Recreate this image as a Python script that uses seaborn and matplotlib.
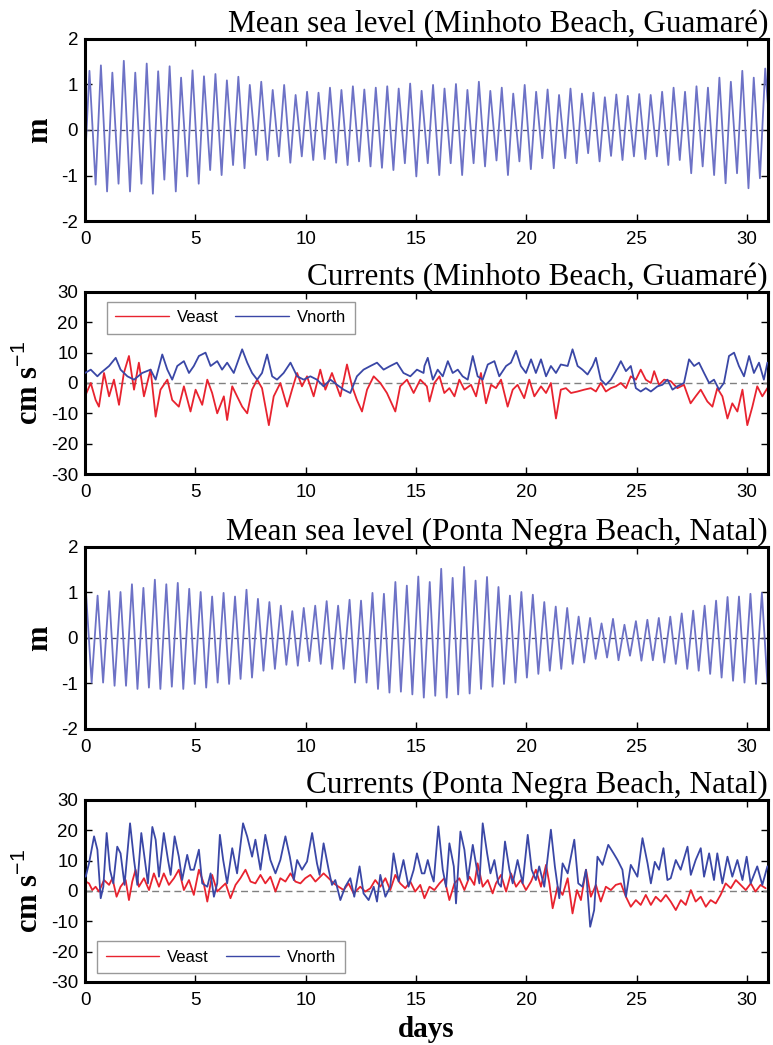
import numpy as np
import pandas as pd
import matplotlib
matplotlib.use("Agg")
import matplotlib.pyplot as plt
import seaborn as sns

# ---------------- data ----------------
# Mean sea level, Minhoto Beach: successive high waters and low waters (m)
msl1_high = [1.30, 1.42, 1.26, 1.52, 1.26, 1.46, 1.29, 1.40, 1.15, 1.31, 1.18, 1.23, 1.09, 1.17,
             0.99, 1.06, 0.88, 0.99, 0.77, 0.84, 0.82, 0.93, 0.88, 0.96, 0.89, 0.93, 0.96,
             0.91, 1.02, 0.86, 0.99, 0.91, 1.01, 0.88, 1.06, 0.86, 0.93, 0.80, 0.99, 0.84, 0.89,
             0.77, 0.91, 0.80, 0.82, 0.72, 0.78, 0.75, 0.79, 0.77, 0.84, 0.93, 0.84, 0.96, 0.93,
             1.15, 1.06, 1.30, 1.15, 1.35]
msl1_low = [-1.20, -1.35, -1.18, -1.35, -1.18, -1.40, -1.09, -1.35, -1.02, -1.18, -0.88, -0.99,
            -0.77, -0.84, -0.55, -0.66, -0.58, -0.72, -0.58, -0.66, -0.64, -0.72, -0.77, -0.69,
            -0.80, -0.83,
            -0.88, -0.73, -1.02, -0.73, -0.99, -0.73, -0.99, -0.73, -0.80, -0.67, -0.99, -0.69,
            -0.86, -0.62, -0.84, -0.62, -0.73, -0.51, -0.69, -0.57, -0.66, -0.58, -0.64, -0.58,
            -0.77, -0.66, -0.95, -0.80, -0.99, -1.17, -0.95, -1.28, -1.06]
msl1_first_high, msl1_first_low, msl1_start, msl1_end = 0.20, 0.48, -0.70, 0.20

# Mean sea level, Ponta Negra Beach
msl3_high = [0.95, 0.93, 1.03, 1.01, 1.18, 1.10, 1.28, 1.18, 1.21, 1.08, 1.01, 0.91, 0.99, 0.91,
             1.06, 0.86, 0.79, 0.71, 0.59, 0.66, 0.71, 0.81, 0.71, 0.84, 0.82, 0.99, 0.97,
             1.23, 1.15, 1.35, 1.23, 1.52, 1.32, 1.56, 1.26, 1.34, 1.12, 0.93, 1.01, 0.95, 0.79,
             0.69, 0.66, 0.47, 0.44, 0.32, 0.42, 0.29, 0.37, 0.40, 0.44, 0.47, 0.54, 0.60, 0.71,
             0.82, 0.90, 0.91, 0.97, 0.99]
msl3_low = [-0.98, -0.98, -1.05, -1.05, -1.12, -1.09, -1.12, -1.07, -1.12, -1.01, -1.09, -0.98,
            -1.01, -0.90, -0.87, -0.72, -0.68, -0.59, -0.61, -0.51, -0.57, -0.68, -0.68, -0.98,
            -0.98, -1.12,
            -1.20, -1.18, -1.24, -1.31, -1.27, -1.31, -1.24, -1.22, -1.12, -1.07, -1.01, -0.98,
            -0.87, -0.79, -0.72, -0.68, -0.57, -0.54, -0.46, -0.43, -0.49, -0.39, -0.50, -0.49,
            -0.54, -0.57, -0.68, -0.72, -0.79, -0.87, -0.94, -0.98, -1.01, -1.00]
msl3_first_high, msl3_first_low, msl3_start, msl3_end = 0.05, 0.30, 0.90, -0.95
half_tide = 0.2595  # days between high and low water (M2 tide)

# Currents, Minhoto Beach (cm/s)
min_vn_day = [0.0, 0.26, 0.56, 0.71, 1.09, 1.39, 1.61, 1.92, 2.22, 2.59, 2.97, 3.2, 3.5, 3.73, 3.95,
              4.18, 4.48, 4.71, 4.93, 5.16, 5.46, 5.69, 5.99, 6.21, 6.44, 6.74, 7.12, 7.35, 7.57,
              7.8, 8.02, 8.25, 8.48, 8.7, 9.0, 9.31, 9.61, 9.91, 10.21, 10.51, 10.81, 11.12, 11.42,
              11.72, 12.02, 12.32, 12.62, 12.93, 13.23, 13.53, 13.83, 14.13, 14.43, 14.74, 15.04,
              15.34, 15.38, 15.53, 15.76, 15.98, 16.21, 16.44, 16.66, 16.89, 17.11, 17.34, 17.57,
              17.79, 18.02, 18.25, 18.55, 18.77, 19.08, 19.3, 19.53, 19.75, 19.98, 20.21, 20.43,
              20.66, 20.89, 21.11, 21.34, 21.56, 21.87, 22.09, 22.32, 22.54, 22.77, 23.0, 23.15,
              23.37, 23.6, 23.83, 24.05, 24.28, 24.51, 24.73, 24.96, 25.18, 25.41, 25.64, 25.94,
              26.16, 26.39, 26.62, 26.84, 27.14, 27.37, 27.6, 27.82, 28.05, 28.28, 28.5, 28.73,
              28.95, 29.18, 29.41, 29.63, 29.86, 30.09, 30.31, 30.54, 30.76, 30.92]
min_vn = [3.3, 4.4, 2.2, 3.3, 5.6, 8.3, 4.4, 2.2, 1.1, 3.3, 4.4, 1.1, 9.4, 4.4, 1.1,
          5.6, 7.2, 3.3, 5.6, 8.9, 10.0, 5.6, 7.2, 4.4, 6.7, 3.3, 11.1, 6.7, 3.3,
          1.1, 3.3, 9.4, 2.2, 1.1, 3.3, 6.7, 2.2, 1.1, 2.2, 1.1, -1.1, 1.1, -0.6,
          -2.2, -3.3, 2.2, 4.4, 5.6, 6.7, 4.4, 5.6, 6.7, 3.3, 2.2, 4.4,
          3.3, 5.6, 8.3, 1.1, 4.4, 2.2, 7.2, 3.3, 4.4, 2.2, 1.1, 8.9,
          2.2, 1.1, 6.1, 7.2, 2.2, 5.6, 6.7, 10.6, 5.6, 3.3, 7.8, 3.3,
          7.8, 2.2, 5.6, 3.3, 6.1, 5.6, 11.1, 5.6, 4.4, 2.8, 5.6, 8.3,
          1.1, -0.6, 1.1, 3.9, 7.2, 3.9, 5.6, -1.7, -2.8, -1.7, -2.8, -1.1,
          -0.6, 1.1, -2.2, -1.1, 0.0, 7.8, 5.6, 6.7, 3.3, 0.0, 1.1, -2.2,
          0.0, 8.9, 10.0, 5.6, 2.2, 8.9, 3.3, 6.7, 1.1, 6.7]
min_ve_day = [0.0, 0.26, 0.48, 0.63, 0.86, 1.09, 1.31, 1.54, 1.76, 1.99, 2.22, 2.44, 2.67, 2.97,
              3.2, 3.42, 3.73, 3.95, 4.25, 4.48, 4.78, 5.01, 5.31, 5.54, 5.76, 5.99, 6.29, 6.44,
              6.67, 6.89, 7.12, 7.35, 7.57, 7.8, 8.02, 8.33, 8.55, 8.85, 9.16, 9.38, 9.61, 9.83,
              10.06, 10.36, 10.66, 10.89, 11.19, 11.57, 11.87, 12.1, 12.32, 12.55, 12.78, 13.08,
              13.38, 13.68, 14.06, 14.28, 14.59, 14.89, 15.19, 15.49, 15.61, 15.83, 16.06, 16.28,
              16.51, 16.74, 16.96, 17.19, 17.49, 17.72, 17.94, 18.17, 18.4, 18.62, 18.85, 19.15,
              19.38, 19.6, 19.9, 20.13, 20.36, 20.66, 20.89, 21.11, 21.34, 21.56, 21.79, 22.02,
              22.32, 22.62, 22.92, 23.15, 23.37, 23.6, 23.83, 24.05, 24.28, 24.51, 24.73, 24.96,
              25.18, 25.41, 25.64, 25.79, 26.01, 26.24, 26.54, 26.84, 27.14, 27.44, 27.67, 27.9,
              28.2, 28.43, 28.65, 28.88, 29.11, 29.33, 29.56, 29.79, 30.01, 30.24, 30.46, 30.69,
              30.92]
min_ve = [-4.4, 0.0, -5.6, -7.8, 3.3, -4.4, 1.1, -7.2, 3.3, 8.9, -2.2, 6.7, -4.4, 4.4,
          -11.1, -2.2, 1.1, -5.6, -7.8, -1.1, -9.4, -2.2, -7.2, 1.1, -3.3, -10.0, -4.4, -12.2,
          -1.1, -4.4, -7.8, -10.0, -2.2, 1.1, -1.7, -13.9, -4.4, 0.0, -7.8, -2.2, 3.3, -1.1,
          2.2, -4.4, 4.4, -2.2, 3.3, -4.4, 6.1, -1.1, -5.6, -9.4, -2.2, 2.2,
          0.0, -3.3, -9.4, -1.1, 1.1, -3.3, 1.1, -1.1, -6.1, 0.0, 2.2, -3.3,
          -1.7, -4.4, 1.1, -2.2, -0.6, -4.4, 3.3, -6.7, -0.6, -1.7, 1.1, -7.8,
          -2.2, -0.6, -5.0, 1.1, -4.4, -1.1, -3.3, 0.0, -11.7, -2.2, -1.7, -3.3,
          -2.8, -2.2, -1.7, -2.8, 0.0, -2.8, -1.7, -1.1, 0.0, -1.7, 2.2, 1.1,
          4.4, 1.1, 0.0, 3.9, -0.6, 1.1, 0.6, -1.7, -0.6, -6.7, -4.4, -2.2,
          -6.1, -7.8, -1.7, -4.4, -11.7, -6.7, -9.4, -2.2, -13.9, -7.8, -1.1, -4.4,
          -1.7]

# Currents, Ponta Negra Beach (cm/s)
pn_vn_day = [0.03, 0.18, 0.41, 0.56, 0.71, 0.83, 0.98, 1.13, 1.28, 1.46, 1.61, 1.79, 2.04, 2.22,
             2.37, 2.55, 2.75, 2.85, 3.05, 3.2, 3.35, 3.57, 3.76, 3.88, 4.06, 4.25, 4.4, 4.63,
             4.78, 4.93, 5.16, 5.31, 5.54, 5.69, 5.84, 5.99, 6.11, 6.26, 6.44, 6.67, 6.89, 7.16,
             7.35, 7.57, 7.72, 7.95, 8.17, 8.4, 8.63, 8.85, 9.08, 9.28, 9.46, 9.61, 9.83, 10.06,
             10.29, 10.51, 10.63, 10.81, 11.04, 11.19, 11.34, 11.57, 11.79, 12.02, 12.2, 12.44,
             12.62, 12.85, 13.08, 13.23, 13.38, 13.61, 13.83, 13.98, 14.21, 14.43, 14.66, 14.89,
             15.04, 15.26, 15.38, 15.53, 15.68, 15.8, 16.01, 16.21, 16.36, 16.51, 16.71, 16.81,
             17.01, 17.19, 17.34, 17.57, 17.76, 17.87, 18.02, 18.22, 18.37, 18.55, 18.73, 18.85,
             19.03, 19.23, 19.38, 19.6, 19.83, 20.06, 20.24, 20.43, 20.58, 20.81, 21.11, 21.29,
             21.49, 21.64, 21.87, 22.17, 22.35, 22.54, 22.7, 22.89, 23.07, 23.22, 23.45, 23.71,
             23.95, 24.13, 24.35, 24.51, 24.73, 25.03, 25.26, 25.49, 25.64, 25.82, 26.01, 26.21,
             26.39, 26.54, 26.77, 26.99, 27.3, 27.45, 27.67, 27.9, 28.05, 28.28, 28.5, 28.65,
             28.88, 29.11, 29.33, 29.56, 29.79, 29.98, 30.16, 30.46, 30.69, 30.92]
pn_vn = [4.7, 9.1, 18.0, 13.6, -2.4, 1.4, 19.1, 7.0, 2.5, 14.6, 12.4, 2.0, 22.3, 10.2,
         2.0, 19.1, 8.1, 2.5, 21.1, 16.9, 4.7, 19.1, 10.2, 5.3, 18.0, 11.3, 3.6, 11.9,
         7.0, 7.0, 13.6, 2.5, 1.4, 5.8, -1.9, 2.5, 18.5, 10.2, 2.5, 14.1, 5.8, 22.3,
         17.9, 11.3, 16.9, 7.0, 18.5, 10.2, 5.8, 10.2, 18.0, 11.3, 3.6, 10.2, 7.0, 9.7,
         19.1, 9.1, 5.3, 15.7, 7.0, 2.0, 3.6, -3.0, 1.4, 4.2, -1.9, 8.1,
         -0.8, -3.0, 1.4, -3.5, 5.3, -1.9, 1.4, 12.4, 3.1, 10.2, 1.4, 6.9,
         12.4, 5.8, 5.8, 10.2, 5.8, 3.1, 21.3, 7.0, 1.4, 15.7, 8.1, -4.1,
         19.6, 13.6, 3.6, 15.2, 7.0, 2.5, 22.3, 12.4, 5.8, 10.2, 2.5, 1.4,
         16.3, 7.0, 2.5, 10.2, 2.5, 18.5, 7.0, 3.6, 8.1, 1.4, 20.2, 8.1,
         -2.4, 9.1, 5.8, 16.9, 2.5, 1.4, 7.0, -11.8, -6.3, 11.3, 8.6, 15.2,
         12.4, 10.2, 7.0, -1.9, 8.6, 4.7, 17.4, 9.1, 2.5, 9.6, 7.0, 14.1,
         3.6, 4.2, 10.2, 7.0, 14.6, 5.3, 10.2, 14.1, 4.7, 12.4, 3.6, 12.4,
         2.5, 11.3, 4.7, 10.2, 3.6, 11.3, 2.5, 8.1, 2.0, 8.1]
pn_ve_day = [0.03, 0.18, 0.33, 0.48, 0.63, 0.86, 1.09, 1.24, 1.43, 1.61, 1.84, 1.99, 2.14, 2.29,
             2.44, 2.67, 2.9, 3.12, 3.35, 3.57, 3.8, 4.03, 4.25, 4.48, 4.71, 4.93, 5.16, 5.38,
             5.54, 5.76, 5.99, 6.21, 6.37, 6.59, 6.82, 7.04, 7.27, 7.5, 7.72, 7.95, 8.17, 8.4,
             8.63, 8.85, 9.08, 9.31, 9.53, 9.76, 9.98, 10.21, 10.44, 10.66, 10.81, 11.04, 11.27,
             11.49, 11.72, 11.94, 12.17, 12.47, 12.7, 12.93, 13.15, 13.38, 13.61, 13.83, 14.06,
             14.28, 14.51, 14.74, 14.96, 15.19, 15.38, 15.61, 15.83, 16.06, 16.28, 16.51, 16.74,
             16.96, 17.19, 17.42, 17.64, 17.79, 18.02, 18.25, 18.47, 18.62, 18.85, 19.08, 19.3,
             19.53, 19.75, 19.98, 20.21, 20.43, 20.66, 20.89, 21.04, 21.19, 21.41, 21.64, 21.87,
             22.09, 22.29, 22.47, 22.7, 22.92, 23.15, 23.37, 23.6, 23.83, 24.05, 24.28, 24.51,
             24.73, 24.96, 25.18, 25.41, 25.64, 25.86, 26.09, 26.32, 26.54, 26.77, 27.0, 27.22,
             27.45, 27.67, 27.9, 28.13, 28.35, 28.58, 28.8, 29.03, 29.26, 29.49, 29.71, 29.94,
             30.17, 30.38, 30.61, 30.84]
pn_ve = [3.1, 2.5, 0.3, 1.4, -0.2, 3.6, 2.0, 4.2, -1.9, 1.4, 3.6, -3.0, 3.1, 7.0,
         1.4, 4.2, 0.3, 5.8, 1.4, 5.8, 2.0, 4.2, 7.0, 0.3, 3.6, -1.3, 7.0, 2.5,
         -3.5, 5.3, -0.2, 1.4, 2.5, -2.4, 2.0, 4.2, 7.0, 3.1, 2.5, 5.3, 2.5, 4.7,
         -0.2, 4.2, 3.1, 5.8, 3.1, 2.5, 4.2, 5.3, 3.1, 4.7, 5.8, 4.2, 2.5,
         1.4, 0.3, 2.5, -0.8, 1.4, -0.2, 0.9, 3.6, 1.4, 4.2, 0.3, 5.3,
         2.5, 0.9, 3.1, -0.2, 2.0, -2.4, 1.4, 0.3, 2.5, 4.2, -3.0, 2.5,
         4.2, 0.3, 4.7, 2.0, 9.1, 1.4, 3.6, -0.8, 2.5, 5.3, -0.2, 5.8,
         1.4, 3.6, 0.3, 3.1, 7.0, 1.4, 8.6, 2.5, -5.7, 1.4, -1.3, 4.2,
         -7.4, 0.3, -3.0, 7.0, -1.9, 2.0, -3.5, 1.4, 0.3, 2.0, 2.5, -1.9,
         -5.2, -3.0, -4.6, -1.3, -4.6, -1.9, -3.5, -1.3, -3.5, -6.3, -3.0, -4.6,
         0.3, -3.5, -1.9, -5.2, -3.0, -4.1, -1.3, 2.5, 0.9, 3.6, 2.0, 0.3,
         2.5, -0.2, 2.0, 0.9]

titles = ["Mean sea level (Minhoto Beach, Guamaré)",
          "Currents (Minhoto Beach, Guamaré)",
          "Mean sea level (Ponta Negra Beach, Natal)",
          "Currents (Ponta Negra Beach, Natal)"]
x_ticks = [0, 5, 10, 15, 20, 25, 30]
msl_ticks = [-2, -1, 0, 1, 2]
cur_ticks = [-30, -20, -10, 0, 10, 20, 30]


def tide_frame(highs, lows, first_high, first_low, start, end):
    t_h = [first_high + 2 * half_tide * k for k in range(len(highs))]
    t_l = [first_low + 2 * half_tide * k for k in range(len(lows))]
    df = pd.DataFrame({"day": [0.0] + t_h + t_l + [31.0],
                       "level": [start] + list(highs) + list(lows) + [end]})
    return df.sort_values("day").reset_index(drop=True)


msl1 = tide_frame(msl1_high, msl1_low, msl1_first_high, msl1_first_low, msl1_start, msl1_end)
msl3 = tide_frame(msl3_high, msl3_low, msl3_first_high, msl3_first_low, msl3_start, msl3_end)

# ---------------- style ----------------
sns.set_style("ticks")
plt.rcParams["font.family"] = ["Liberation Sans", "DejaVu Sans"]
plt.rcParams["axes.unicode_minus"] = False
plt.rcParams["mathtext.fontset"] = "custom"
plt.rcParams["mathtext.rm"] = "Liberation Sans"
plt.rcParams["mathtext.it"] = "Liberation Sans"
plt.rcParams["lines.solid_joinstyle"] = "round"
plt.rcParams["text.color"] = "black"
plt.rcParams["axes.labelcolor"] = "black"
plt.rcParams["xtick.color"] = "black"
plt.rcParams["ytick.color"] = "black"

SERIF = ["Liberation Serif", "DejaVu Serif"]
C_MSL = "#6d72c6"
C_N = "#3a47a6"
C_E = "#e8232f"

fig = plt.figure(figsize=(7.73, 10.45), dpi=100)
left, width, height = 0.110, 0.8836, 0.1742
bottoms = [0.7885, 0.5464, 0.3024, 0.0603]
axes = [fig.add_axes([left, b, width, height]) for b in bottoms]

# panel 1 & 3 : sea level
for ax, df in ((axes[0], msl1), (axes[2], msl3)):
    ax.axhline(0, color="#4a4a6a", lw=0.9, ls=(0, (4, 3)), zorder=1)
    sns.lineplot(data=df, x="day", y="level", ax=ax, color=C_MSL, lw=1.3,
                 estimator=None, sort=False, zorder=2)
    ax.set_ylim(-2, 2)
    ax.set_yticks(msl_ticks)
    ax.set_ylabel("m", fontsize=22, fontweight="bold", family=SERIF, color="black")
    ax.yaxis.set_label_coords(-0.045, 0.5)

# panel 2 & 4 : currents
cur_sets = [(axes[1], min_ve_day, min_ve, min_vn_day, min_vn),
            (axes[3], pn_ve_day, pn_ve, pn_vn_day, pn_vn)]
for ax, ed, ev, nd, nv in cur_sets:
    ax.axhline(0, color="#808080", lw=1.0, ls=(0, (5, 3)), zorder=1)
    sns.lineplot(x=ed, y=ev, ax=ax, color=C_E, lw=1.3, estimator=None, sort=False,
                 label="Veast", zorder=2)
    sns.lineplot(x=nd, y=nv, ax=ax, color=C_N, lw=1.3, estimator=None, sort=False,
                 label="Vnorth", zorder=3)
    ax.set_ylim(-30, 30)
    ax.set_yticks(cur_ticks)
    ax.set_ylabel(r"cm s$^{-1}$", fontsize=22, fontweight="bold", family=SERIF, color="black")
    ax.yaxis.set_label_coords(-0.058, 0.5)

leg_kw = dict(ncol=2, fontsize=12, frameon=True, fancybox=False, edgecolor="#808080",
              handlelength=3.2, columnspacing=1.0, handletextpad=0.5, borderpad=0.5,
              borderaxespad=0.0, labelcolor="black")
l1 = axes[1].legend(loc="upper left", bbox_to_anchor=(0.032, 0.945), **leg_kw)
l2 = axes[3].legend(loc="lower left", bbox_to_anchor=(0.018, 0.05), **leg_kw)
for lg in (l1, l2):
    lg.get_frame().set_linewidth(1.0)
    for h in lg.get_lines():
        h.set_linewidth(1.0)

for ax, title in zip(axes, titles):
    ax.set_xlim(0, 30.95)
    ax.set_xticks(x_ticks)
    ax.set_xlabel("")
    ax.tick_params(direction="in", top=True, right=True, length=5, width=1,
                   labelsize=13.5, pad=5, colors="black")
    ax.tick_params(axis="x", pad=7)
    for s in ax.spines.values():
        s.set_linewidth(2.2)
        s.set_color("black")
    ax.set_title(title, loc="right", fontsize=22.5, family=SERIF, pad=5, color="black")

axes[3].set_xlabel("days", fontsize=21, fontweight="bold", family=SERIF, color="black")
axes[3].xaxis.set_label_coords(0.5, -0.185)

fig.savefig("out.png", dpi=100)
